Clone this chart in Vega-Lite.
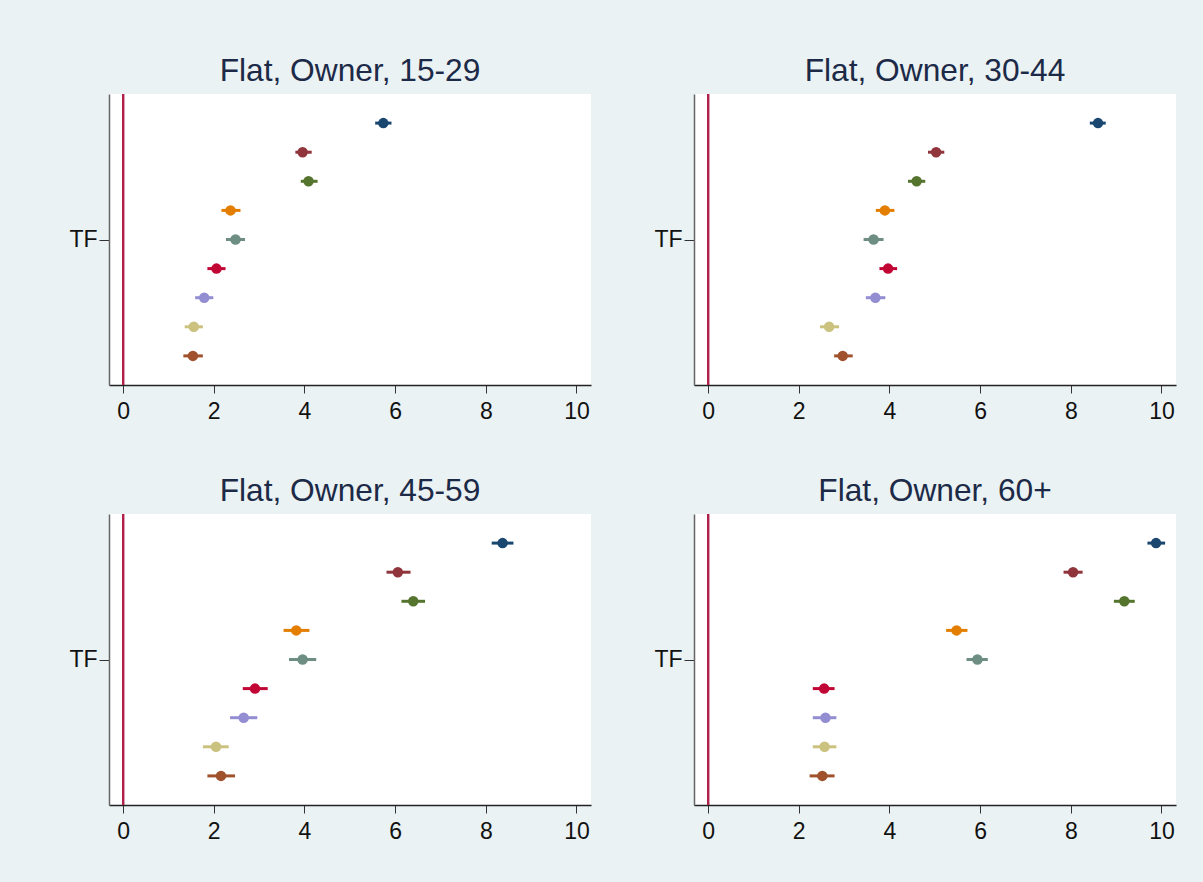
{
  "$schema": "https://vega.github.io/schema/vega-lite/v6.json",
  "background": "#EAF2F3",
  "padding": {"left": 68, "top": 56, "right": 60, "bottom": 60},
  "data": {"values": [
    {"panel": "Flat, Owner, 15-29", "series": "s1", "est": 5.74, "lo": 5.56, "hi": 5.92},
    {"panel": "Flat, Owner, 15-29", "series": "s2", "est": 3.96, "lo": 3.80, "hi": 4.16},
    {"panel": "Flat, Owner, 15-29", "series": "s3", "est": 4.09, "lo": 3.92, "hi": 4.29},
    {"panel": "Flat, Owner, 15-29", "series": "s4", "est": 2.37, "lo": 2.17, "hi": 2.59},
    {"panel": "Flat, Owner, 15-29", "series": "s5", "est": 2.48, "lo": 2.27, "hi": 2.69},
    {"panel": "Flat, Owner, 15-29", "series": "s6", "est": 2.06, "lo": 1.86, "hi": 2.26},
    {"panel": "Flat, Owner, 15-29", "series": "s7", "est": 1.79, "lo": 1.59, "hi": 1.99},
    {"panel": "Flat, Owner, 15-29", "series": "s8", "est": 1.56, "lo": 1.36, "hi": 1.76},
    {"panel": "Flat, Owner, 15-29", "series": "s9", "est": 1.54, "lo": 1.33, "hi": 1.76},
    {"panel": "Flat, Owner, 30-44", "series": "s1", "est": 8.60, "lo": 8.42, "hi": 8.77},
    {"panel": "Flat, Owner, 30-44", "series": "s2", "est": 5.03, "lo": 4.85, "hi": 5.21},
    {"panel": "Flat, Owner, 30-44", "series": "s3", "est": 4.60, "lo": 4.41, "hi": 4.79},
    {"panel": "Flat, Owner, 30-44", "series": "s4", "est": 3.90, "lo": 3.70, "hi": 4.11},
    {"panel": "Flat, Owner, 30-44", "series": "s5", "est": 3.65, "lo": 3.43, "hi": 3.87},
    {"panel": "Flat, Owner, 30-44", "series": "s6", "est": 3.97, "lo": 3.78, "hi": 4.17},
    {"panel": "Flat, Owner, 30-44", "series": "s7", "est": 3.69, "lo": 3.48, "hi": 3.91},
    {"panel": "Flat, Owner, 30-44", "series": "s8", "est": 2.67, "lo": 2.47, "hi": 2.89},
    {"panel": "Flat, Owner, 30-44", "series": "s9", "est": 2.97, "lo": 2.78, "hi": 3.19},
    {"panel": "Flat, Owner, 45-59", "series": "s1", "est": 8.37, "lo": 8.13, "hi": 8.61},
    {"panel": "Flat, Owner, 45-59", "series": "s2", "est": 6.06, "lo": 5.81, "hi": 6.34},
    {"panel": "Flat, Owner, 45-59", "series": "s3", "est": 6.40, "lo": 6.14, "hi": 6.66},
    {"panel": "Flat, Owner, 45-59", "series": "s4", "est": 3.82, "lo": 3.54, "hi": 4.11},
    {"panel": "Flat, Owner, 45-59", "series": "s5", "est": 3.96, "lo": 3.66, "hi": 4.26},
    {"panel": "Flat, Owner, 45-59", "series": "s6", "est": 2.91, "lo": 2.64, "hi": 3.19},
    {"panel": "Flat, Owner, 45-59", "series": "s7", "est": 2.66, "lo": 2.36, "hi": 2.96},
    {"panel": "Flat, Owner, 45-59", "series": "s8", "est": 2.05, "lo": 1.76, "hi": 2.33},
    {"panel": "Flat, Owner, 45-59", "series": "s9", "est": 2.16, "lo": 1.86, "hi": 2.47},
    {"panel": "Flat, Owner, 60+", "series": "s1", "est": 9.88, "lo": 9.69, "hi": 10.08},
    {"panel": "Flat, Owner, 60+", "series": "s2", "est": 8.05, "lo": 7.84, "hi": 8.26},
    {"panel": "Flat, Owner, 60+", "series": "s3", "est": 9.18, "lo": 8.95, "hi": 9.41},
    {"panel": "Flat, Owner, 60+", "series": "s4", "est": 5.48, "lo": 5.25, "hi": 5.72},
    {"panel": "Flat, Owner, 60+", "series": "s5", "est": 5.94, "lo": 5.70, "hi": 6.17},
    {"panel": "Flat, Owner, 60+", "series": "s6", "est": 2.56, "lo": 2.31, "hi": 2.79},
    {"panel": "Flat, Owner, 60+", "series": "s7", "est": 2.59, "lo": 2.31, "hi": 2.83},
    {"panel": "Flat, Owner, 60+", "series": "s8", "est": 2.57, "lo": 2.31, "hi": 2.83},
    {"panel": "Flat, Owner, 60+", "series": "s9", "est": 2.52, "lo": 2.24, "hi": 2.79}
  ]},
  "facet": {
    "field": "panel", "type": "nominal",
    "sort": ["Flat, Owner, 15-29", "Flat, Owner, 30-44", "Flat, Owner, 45-59", "Flat, Owner, 60+"],
    "header": {"title": null, "labelFontSize": 31.7, "labelFont": "Liberation Sans", "labelColor": "#1c2a48", "labelPadding": 5}
  },
  "columns": 2,
  "spacing": {"row": 53, "column": 62},
  "resolve": {"axis": {"x": "independent", "y": "independent"}},
  "spec": {
    "width": 482,
    "height": 291,
    "encoding": {
      "y": {"field": "series", "type": "nominal",
            "scale": {"type": "point", "padding": 1, "domain": ["s1","s2","s3","s4","s5","s6","s7","s8","s9"]},
            "axis": {"title": null, "values": ["s5"], "labelExpr": "'TF'", "labelFontSize": 23, "labelFont": "Liberation Sans", "labelColor": "#111111", "tickSize": 10, "labelPadding": 2, "domainColor": "#666666", "tickColor": "#333333", "domainWidth": 1.5, "grid": false}}
    },
    "layer": [
      {"mark": {"type": "rule", "color": "#B0224A", "strokeWidth": 2},
       "encoding": {"x": {"datum": 0, "type": "quantitative"}, "y": null}},
      {"mark": {"type": "rule", "strokeWidth": 3},
       "encoding": {
         "x": {"field": "lo", "type": "quantitative",
               "scale": {"domain": [-0.31, 10.32], "nice": false, "zero": false},
               "axis": {"title": null, "values": [0,2,4,6,8,10], "labelFontSize": 23, "labelFont": "Liberation Sans", "labelColor": "#111111", "tickSize": 8, "labelPadding": 7, "domainColor": "#222222", "tickColor": "#333333", "domainWidth": 1.5, "grid": false}},
         "x2": {"field": "hi"},
         "color": {"field": "series", "type": "nominal", "legend": null,
                   "scale": {"domain": ["s1","s2","s3","s4","s5","s6","s7","s8","s9"],
                             "range": ["#1a476f","#90353b","#55752f","#e37e00","#6e8e84","#c10534","#938dd2","#cac27e","#a0522d"]}}
       }},
      {"mark": {"type": "point", "filled": true, "opacity": 1, "size": 110, "shape": "circle"},
       "encoding": {
         "x": {"field": "est", "type": "quantitative"},
         "color": {"field": "series", "type": "nominal", "legend": null}
       }}
    ]
  },
  "config": {
    "view": {"fill": "white", "stroke": null},
    "axis": {"labelFont": "Liberation Sans"}
  }
}
